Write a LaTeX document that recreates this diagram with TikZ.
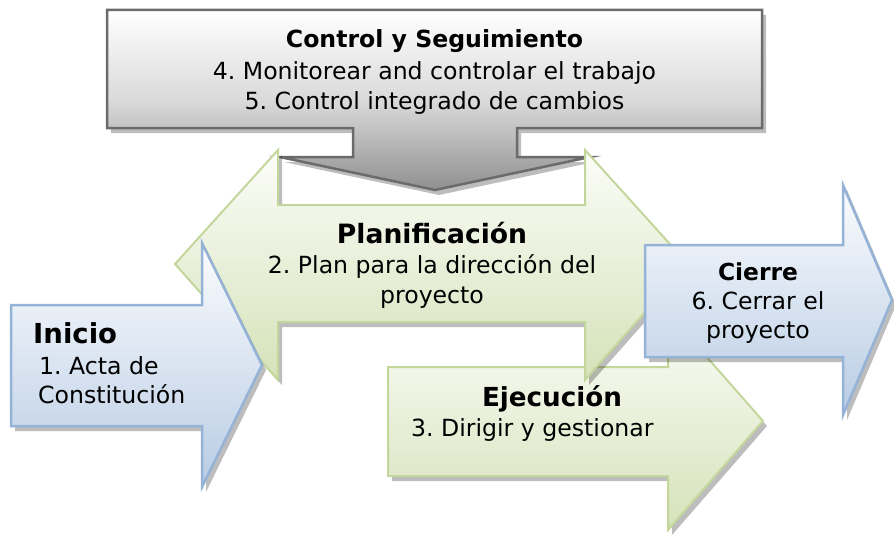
\documentclass[tikz,border=0pt]{standalone}
\usepackage{fontspec}
\setmainfont{DejaVu Sans}
\frenchspacing
\definecolor{grayTop}{HTML}{FFFFFF}
\definecolor{grayMid}{HTML}{DADADA}
\definecolor{grayBot}{HTML}{909090}
\definecolor{grayLine}{HTML}{6B6B6B}
\definecolor{greenTop}{HTML}{FCFDF9}
\definecolor{greenBot}{HTML}{D5E2B9}
\definecolor{greenLine}{HTML}{C3D69B}
\definecolor{blueTop}{HTML}{FBFCFE}
\definecolor{blueBot}{HTML}{B8CCE4}
\definecolor{blueLine}{HTML}{95B3D7}
\begin{document}
\begin{tikzpicture}[x=1pt,y=-1pt,
  shadowfill/.style={fill=black,opacity=0.26,draw=none},
  grayshape/.style={top color=grayTop,bottom color=grayBot,middle color=grayMid,draw=grayLine,line width=2.5pt,line join=miter},
  greenshape/.style={top color=greenTop,bottom color=greenBot,draw=greenLine,line width=2pt,line join=miter},
  blueshape/.style={top color=blueTop,bottom color=blueBot,draw=blueLine,line width=2.5pt,line join=miter},
  txt/.style={anchor=base,inner sep=0pt,font=\fontsize{23.6}{28}\selectfont},
  hd/.style={anchor=base,inner sep=0pt,font=\fontsize{#1}{28}\selectfont\bfseries},
]
\useasboundingbox (0,0) rectangle (894,535);
% Control y Seguimiento
\def\ctlpath{(107,10) -- (762,10) -- (762,128) -- (517,128) -- (517,157) -- (590,157) -- (435,190) -- (280,157) -- (353,157) -- (353,128) -- (107,128) -- cycle}
\fill[shadowfill,shift={(4,5)}] \ctlpath;
\path[grayshape] \ctlpath;
% Ejecucion
\def\ejepath{(388,367) -- (668,367) -- (668,313) -- (763,421) -- (668,530) -- (668,476) -- (388,476) -- cycle}
\fill[shadowfill,shift={(4,5)}] \ejepath;
\path[greenshape] \ejepath;
% Planificacion
\def\plapath{(175,264) -- (278,150) -- (278,205) -- (585,205) -- (585,150) -- (688,264) -- (585,380) -- (585,322) -- (278,322) -- (278,380) -- cycle}
\fill[shadowfill,shift={(4,5)}] \plapath;
\path[greenshape] \plapath;
% Inicio
\def\inipath{(11,305) -- (202,305) -- (202,243) -- (262,365) -- (202,487) -- (202,426) -- (11,426) -- cycle}
\fill[shadowfill,shift={(4,5)}] \inipath;
\path[blueshape] \inipath;
% Cierre
\def\cierpath{(645,245) -- (843,245) -- (843,185) -- (892,300) -- (843,415) -- (843,357) -- (645,357) -- cycle}
\fill[shadowfill,shift={(4,5)}] \cierpath;
\path[blueshape] \cierpath;
% texts
\node[hd=23.6] (ctlA) at (434.5,48) {Control y Seguimiento};
\node[txt] (ctlB) at (434.5,80) {4. Monitorear and controlar el trabajo};
\node[txt] (ctlC) at (434.5,109) {5. Control integrado de cambios};
\node[hd=26.6] (plaA) at (432,243) {Planificación};
\node[txt] (plaB) at (432,273) {2. Plan para la dirección del};
\node[txt] (plaC) at (432,303) {proyecto};
\node[hd=27.5,anchor=base west] (iniA) at (33,343) {Inicio};
\node[txt,anchor=base west] (iniB) at (39,374) {1. Acta de};
\node[txt,anchor=base west] (iniC) at (38,403) {Constitución};
\node[hd=26.2] (ejeA) at (552,406) {Ejecución};
\node[txt,anchor=base west] (ejeB) at (411,436) {3. Dirigir y gestionar};
\node[hd=23.4] (cieA) at (758,280) {Cierre};
\node[txt] (cieB) at (758,309) {6. Cerrar el};
\node[txt] (cieC) at (758,338) {proyecto};
\end{tikzpicture}
\end{document}
